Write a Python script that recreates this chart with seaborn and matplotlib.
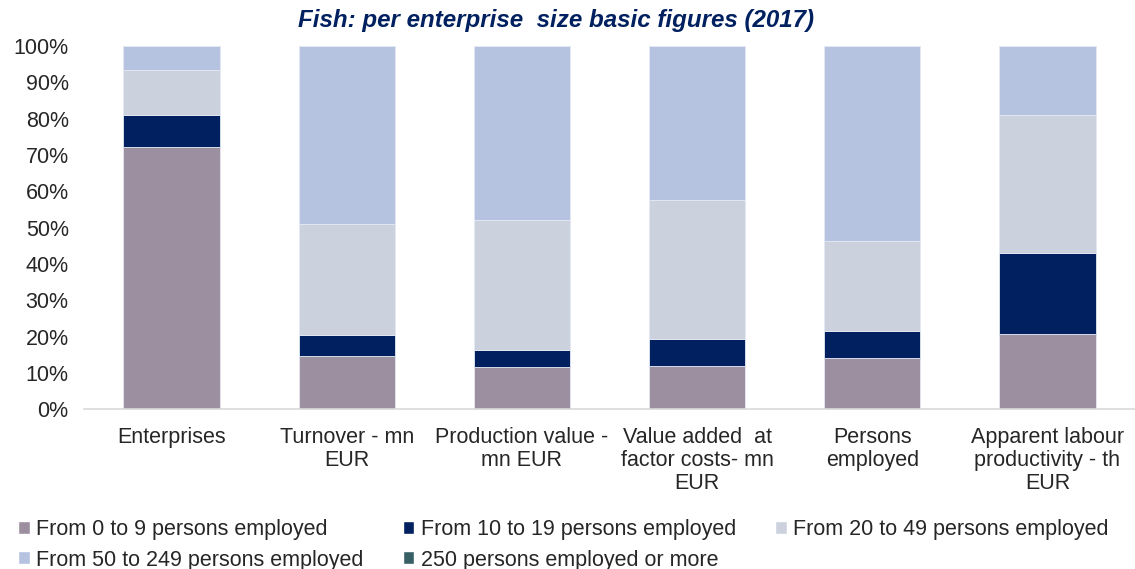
import numpy as np
import pandas as pd
import matplotlib.pyplot as plt
import seaborn as sns
from matplotlib.patches import Patch

# values (share in %)
categories = ["Enterprises", "Turnover - mn EUR", "Production value - mn EUR",
              "Value added  at factor costs- mn EUR", "Persons employed",
              "Apparent labour productivity - th EUR"]
tick_labels = ["Enterprises", "Turnover - mn\nEUR", "Production value -\nmn EUR",
               "Value added  at\nfactor costs- mn\nEUR", "Persons\nemployed",
               "Apparent labour\nproductivity - th\nEUR"]
size_0_9 = [72.2, 14.7, 11.7, 12.0, 14.0, 20.7]
size_10_19 = [8.8, 5.7, 4.6, 7.2, 7.6, 22.3]
size_20_49 = [12.4, 30.6, 35.8, 38.4, 24.7, 38.0]
size_50_249 = [6.6, 49.0, 47.9, 42.4, 53.7, 19.0]
size_250 = [0, 0, 0, 0, 0, 0]

classes = ["From 0 to 9 persons employed", "From 10 to 19 persons employed",
           "From 20 to 49 persons employed", "From 50 to 249 persons employed",
           "250 persons employed or more"]
colors = ["#9c8fa0", "#002060", "#cbd2de", "#b5c2e0", "#376066"]

rows = []
for cls, vals in zip(classes, [size_0_9, size_10_19, size_20_49, size_50_249, size_250]):
    for cat, v in zip(categories, vals):
        rows.append({"cat": cat, "cls": cls, "val": v})
df = pd.DataFrame(rows)

sns.set_style("white")
plt.rcParams["font.family"] = ["Liberation Sans", "DejaVu Sans"]

fig = plt.figure(figsize=(11.35, 5.69), dpi=100)
ax = fig.add_axes([0.074, 0.281, 0.926, 0.638])

# histplot stacks the first hue level on top, so reverse the order
sns.histplot(data=df, x="cat", hue="cls", weights="val", multiple="stack",
             discrete=True, shrink=0.55, hue_order=classes[::-1],
             palette=dict(zip(classes, colors)), alpha=1,
             edgecolor="#e4e9f4", linewidth=0.6, legend=False, ax=ax)

ax.set_xlim(-0.5, 5.5)
ax.set_ylim(0, 100)
ax.set_yticks(range(0, 101, 10))
ax.set_yticklabels([f"{t}%" for t in range(0, 101, 10)], fontsize=15.5)
ax.set_xticks(range(len(categories)))
ax.set_xticklabels(tick_labels, fontsize=15.5, linespacing=1.12)
ax.tick_params(axis="y", length=0, pad=11)
ax.tick_params(axis="x", length=0, pad=13)
ax.set_xlabel("")
ax.set_ylabel("")
for s in ["top", "right", "left"]:
    ax.spines[s].set_visible(False)
ax.spines["bottom"].set_color("#d9d9d9")
ax.spines["bottom"].set_linewidth(1.2)

fig.text(0.49, 0.964, "Fish: per enterprise  size basic figures (2017)",
         ha="center", va="center", fontsize=17.4, fontweight="bold",
         fontstyle="italic", color="#002060")

handles = [Patch(facecolor=c) for c in colors]
order = [0, 3, 1, 4, 2]
fig.legend([handles[i] for i in order], [classes[i] for i in order],
           loc="upper left", bbox_to_anchor=(0.016, 0.087), ncol=3, frameon=False,
           fontsize=15.5, handlelength=0.55, handleheight=0.55, handletextpad=0.3,
           columnspacing=1.8, labelspacing=0.42, borderaxespad=0, borderpad=0)

fig.savefig("out.png", dpi=100)
